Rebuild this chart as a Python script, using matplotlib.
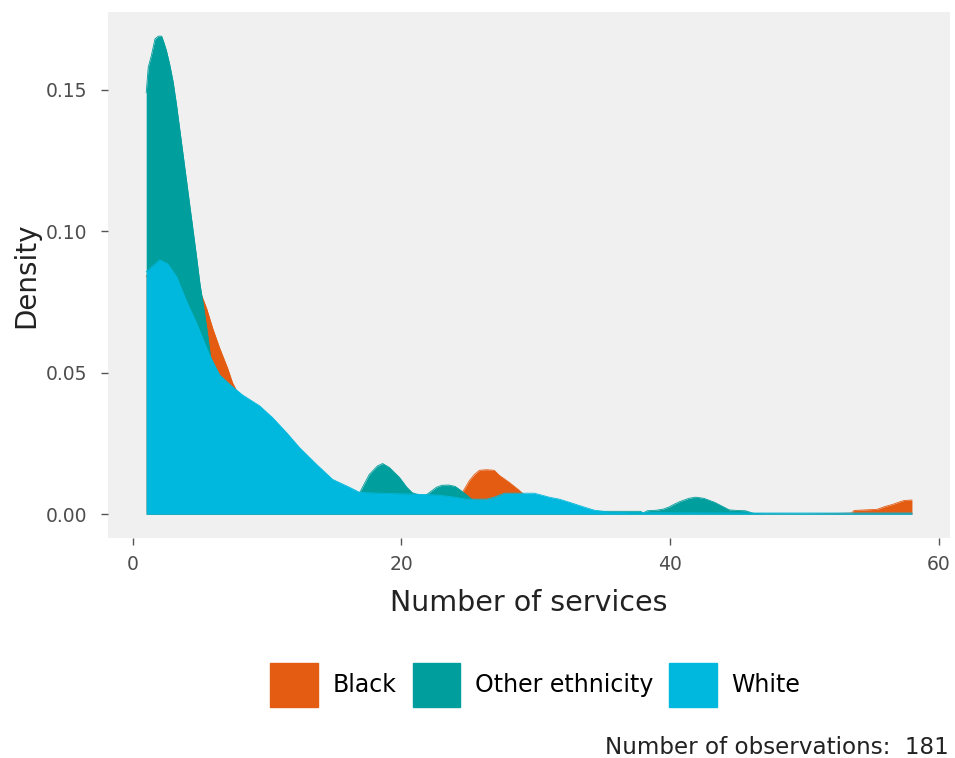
import matplotlib
matplotlib.use("Agg")
import matplotlib.pyplot as plt
from matplotlib.patches import Patch

# densities (x = number of services)
black_x = [1.0, 2.0, 3.0, 4.0, 5.13, 5.5, 5.95, 6.47, 7.06, 7.43, 7.66, 8.0, 9.0, 10.0, 11.0,
           12.0, 13.0, 14.0, 15.0, 16.0, 17.0, 18.0, 20.0, 22.0, 23.0, 24.0, 24.54, 25.06,
           25.43, 25.8, 26.32, 26.9, 27.29, 28.03, 28.77, 29.0, 30.0, 31.0, 32.0, 34.0, 36.0,
           40.0, 50.0, 52.0, 53.5, 53.7, 55.4, 56.0, 56.6, 57.0, 57.4, 58.0]
black_y = [0.084, 0.092, 0.094, 0.088, 0.0773, 0.0727, 0.0657, 0.0587, 0.0516, 0.0464, 0.0443,
           0.040, 0.033, 0.026, 0.020, 0.015, 0.011, 0.008, 0.006, 0.0045, 0.004, 0.0035,
           0.003, 0.003, 0.0035, 0.0045, 0.0077, 0.0119, 0.0140, 0.0155, 0.0157, 0.0155,
           0.0137, 0.0112, 0.0084, 0.0074, 0.004, 0.002, 0.001, 0.0003, 0.0001, 0.0, 0.0,
           0.0002, 0.0004, 0.0013, 0.0017, 0.0027, 0.0035, 0.0042, 0.0048, 0.0050]

other_x = [1.0, 1.15, 1.4, 1.65, 1.9, 2.15, 2.3, 2.5, 2.75, 3.0, 3.25, 3.5, 3.75, 4.0, 4.25,
           4.5, 4.75, 5.0, 5.25, 5.5, 5.75, 6.0, 6.5, 7.0, 8.0, 9.0, 10.0, 11.0, 12.0, 13.0,
           13.5, 14.0, 14.5, 15.0, 16.0, 16.9, 17.6, 18.2, 18.6, 19.1, 19.85, 20.4, 20.8, 21.3,
           21.8, 22.1, 22.6, 23.0, 23.5, 24.0, 24.3, 24.8, 25.3, 26.0, 27.0, 28.0, 29.0, 30.0,
           32.0, 34.0, 36.0, 37.8, 38.0, 38.3, 39.0, 39.5, 39.9, 40.3, 40.7, 41.4, 41.9, 42.5,
           43.3, 44.0, 44.4, 45.0, 45.6, 46.2, 47.0, 50.0, 58.0]
other_y = [0.149, 0.158, 0.1625, 0.168, 0.169, 0.169, 0.167, 0.164, 0.159, 0.153, 0.145, 0.136,
           0.127, 0.118, 0.109, 0.100, 0.091, 0.0815, 0.074, 0.066, 0.057, 0.050, 0.038, 0.028,
           0.016, 0.010, 0.007, 0.005, 0.003, 0.0012, 0.0004, 0.0003, 0.0006, 0.0015, 0.004,
           0.0077, 0.014, 0.017, 0.0179, 0.0165, 0.013, 0.0095, 0.0076, 0.0068, 0.0067, 0.0077,
           0.0095, 0.0102, 0.0103, 0.0098, 0.0088, 0.007, 0.005, 0.003, 0.0015, 0.0008, 0.0007,
           0.0008, 0.0009, 0.001, 0.001, 0.0010, 0.0004, 0.0012, 0.0014, 0.0018, 0.0025, 0.0035,
           0.0044, 0.0056, 0.0060, 0.0056, 0.0042, 0.0025, 0.0015, 0.0013, 0.0012, 0.0003,
           0.0001, 0.0, 0.0]

white_x = [1.0, 2.0, 2.6, 3.27, 4.01, 4.76, 5.72, 6.47, 7.36, 8.18, 9.44, 10.41, 11.45, 12.42,
           13.68, 14.87, 16.13, 16.88, 18.36, 21.34, 22.83, 23.94, 24.83, 26.32, 26.9, 27.66,
           29.9, 31.0, 31.75, 32.5, 33.6, 34.35, 35.47, 37.0, 45.0, 58.0]
white_y = [0.0857, 0.0899, 0.0885, 0.0839, 0.0752, 0.0674, 0.0562, 0.0492, 0.0453, 0.0421,
           0.0383, 0.0341, 0.0288, 0.0235, 0.0176, 0.0123, 0.0095, 0.0077, 0.0074, 0.0070,
           0.0067, 0.0060, 0.0053, 0.0053, 0.0060, 0.0074, 0.0074, 0.0060, 0.0053, 0.0042,
           0.0025, 0.0014, 0.0007, 0.0005, 0.0004, 0.0004]

groups = ["Black", "Other ethnicity", "White"]
colors = ["#E45C12", "#009E9D", "#00B8DE"]
n_obs = 181

fig = plt.figure(figsize=(9.55, 7.58), dpi=100)
ax = fig.add_axes([0.113, 0.290, 0.882, 0.694])
ax.set_facecolor("#F0F0F0")

series = [(black_x, black_y), (other_x, other_y), (white_x, white_y)]
for i, ((xs, ys), c) in enumerate(zip(series, colors)):
    ax.fill_between(xs, 0, ys, color=c, lw=0, zorder=2 + 2 * i)
    ax.plot(xs, ys, color=c, lw=0.6, zorder=3 + 2 * i)

ax.set_xlim(-1.85, 60.85)
ax.set_ylim(-0.0085, 0.1775)
ax.set_xticks([0, 20, 40, 60])
ax.set_yticks([0.0, 0.05, 0.10, 0.15])
ax.set_yticklabels(["0.00", "0.05", "0.10", "0.15"])
for s in ax.spines.values():
    s.set_visible(False)
ax.tick_params(length=5, width=1, color="#555555", labelcolor="#4D4D4D", labelsize=13.5)
ax.tick_params(axis="x", pad=7)
ax.tick_params(axis="y", pad=10)
ax.set_xlabel("Number of services", fontsize=20.5, color="#222222", labelpad=11)
ax.set_ylabel("Density", fontsize=20, color="#222222", labelpad=4)

handles = [Patch(facecolor=c, edgecolor=c) for c in colors]
fig.legend(handles, groups, loc="center", bbox_to_anchor=(0.5607, 1 - 685 / 758), ncol=3,
           frameon=False, fontsize=17, handlelength=2.0, handleheight=2.5,
           handletextpad=0.64, columnspacing=0.68)
fig.text(0.993, 1 - 747 / 758, f"Number of observations:  {n_obs}", ha="right", va="center",
         fontsize=16.6, color="#222222")

fig.savefig("out.png", dpi=100)
